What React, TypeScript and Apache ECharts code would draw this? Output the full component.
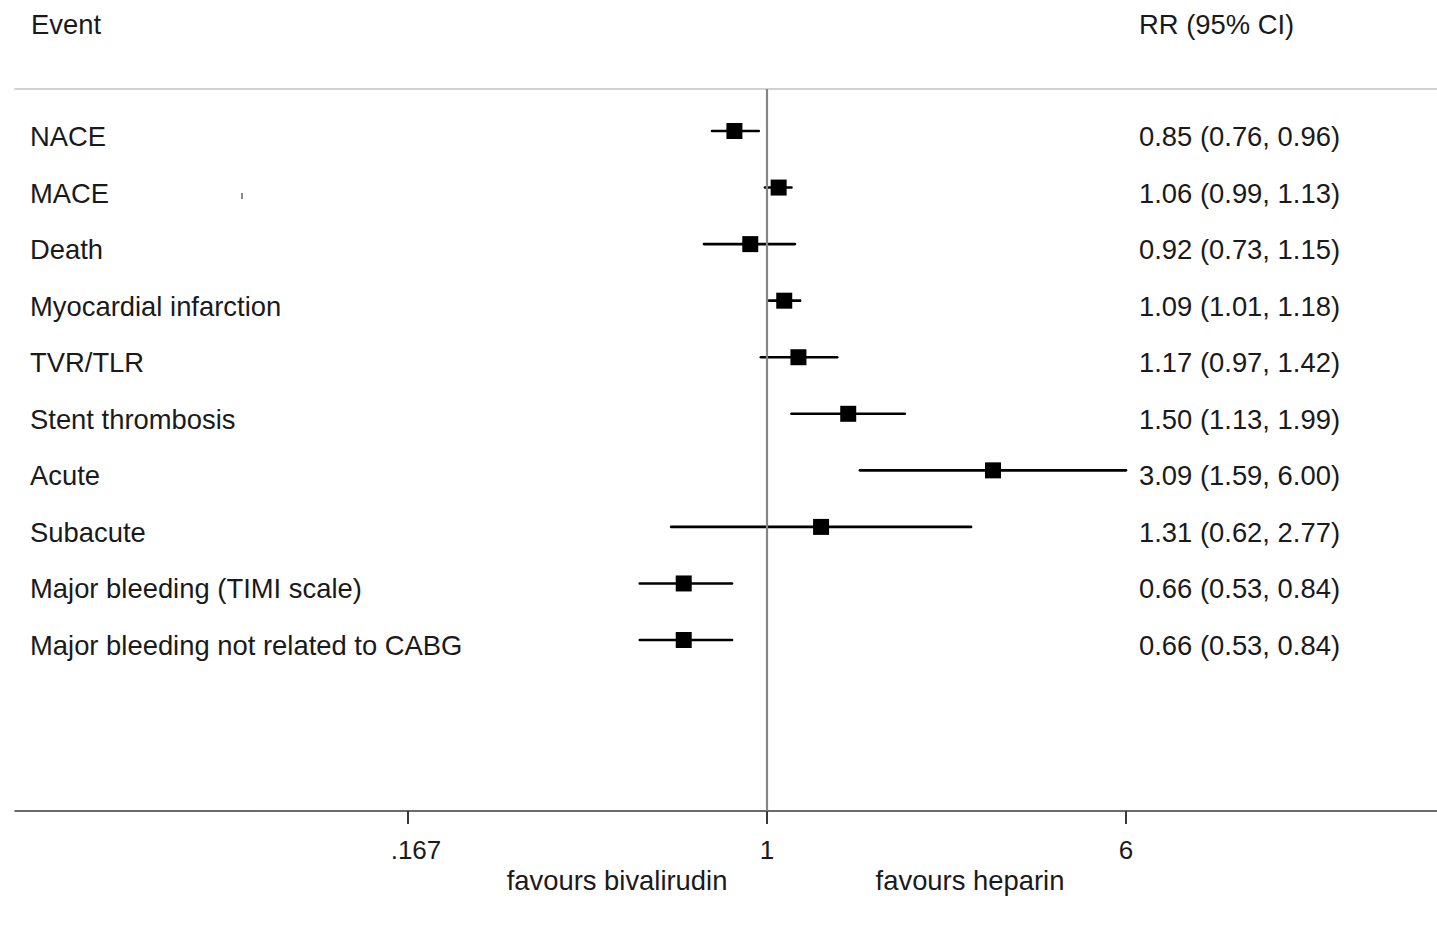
import React, { useEffect, useRef } from "react";
import * as echarts from "echarts";

const events = [
  "NACE",
  "MACE",
  "Death",
  "Myocardial infarction",
  "TVR/TLR",
  "Stent thrombosis",
  "Acute",
  "Subacute",
  "Major bleeding (TIMI scale)",
  "Major bleeding not related to CABG",
];
const rr = [0.85, 1.06, 0.92, 1.09, 1.17, 1.5, 3.09, 1.31, 0.66, 0.66];
const ciLow = [0.76, 0.99, 0.73, 1.01, 0.97, 1.13, 1.59, 0.62, 0.53, 0.53];
const ciHigh = [0.96, 1.13, 1.15, 1.18, 1.42, 1.99, 6.0, 2.77, 0.84, 0.84];

const tickValues = [1 / 6, 1, 6];
const tickLabels = [".167", "1", "6"];

const axisRR = [0.02345, 28.33]; // visible range of the RR axis
const rowRange = [-0.7426, 12.023]; // visible range of rows

const FONT = "'Liberation Sans', Arial, sans-serif";
const TEXT = "#1a1a1a";

const ln = Math.log;
const rowIdx = events.map((_, i) => i);
const ciText = events.map(
  (_, i) => `${rr[i].toFixed(2)} (${ciLow[i].toFixed(2)}, ${ciHigh[i].toFixed(2)})`
);

function buildOption() {
  const xMin = ln(axisRR[0]);
  const xMax = ln(axisRR[1]);
  const lnTicks = tickValues.map(ln);
  const tickLabelOf = (v: number) => {
    let best = 0;
    lnTicks.forEach((t, i) => {
      if (Math.abs(t - v) < Math.abs(lnTicks[best] - v)) best = i;
    });
    return best === 0 ? `{p|${tickLabels[best]}}` : `{n|${tickLabels[best]}}`;
  };
  const rowLabelStyle = {
    show: true,
    inside: true,
    align: "left" as const,
    verticalAlign: "top" as const,
    lineHeight: 11,
    fontSize: 27.4,
    fontFamily: FONT,
    color: TEXT,
    customValues: rowIdx,
    hideOverlap: false,
  };
  const titleStyle = { fontSize: 27.4, fontWeight: "normal", fontFamily: FONT, color: TEXT, lineHeight: 30 };
  return {
    animation: false,
    backgroundColor: "#ffffff",
    grid: { left: 15, right: 0, top: 89, bottom: 119, containLabel: false },
    title: [
      { text: "Event", left: 31, top: 9, padding: 0, textStyle: titleStyle },
      { text: "RR (95% CI)", left: 1139, top: 9, padding: 0, textStyle: titleStyle },
      { text: "favours bivalirudin", left: 617, top: 865, padding: 0, textAlign: "center", textStyle: titleStyle },
      { text: "favours heparin", left: 970, top: 865, padding: 0, textAlign: "center", textStyle: titleStyle },
    ],
    xAxis: [
      {
        type: "value",
        position: "bottom",
        min: xMin,
        max: xMax,
        splitLine: { show: false },
        axisLine: { show: true, onZero: false, lineStyle: { color: "#3a3a3a", width: 1.6 } },
        axisTick: {
          show: true,
          length: 13,
          customValues: lnTicks,
          lineStyle: { color: "#3a3a3a", width: 2 },
        },
        axisLabel: {
          show: true,
          customValues: lnTicks,
          margin: 26,
          formatter: tickLabelOf,
          rich: {
            p: { fontSize: 26, fontFamily: FONT, color: TEXT, lineHeight: 26, padding: [0, 0, 0, 16] },
            n: { fontSize: 26, fontFamily: FONT, color: TEXT, lineHeight: 26 },
          },
        },
      },
      {
        type: "value",
        position: "top",
        min: xMin,
        max: xMax,
        splitLine: { show: false },
        axisLine: { show: true, onZero: false, lineStyle: { color: "#d2d2d2", width: 2 } },
        axisTick: { show: false },
        axisLabel: { show: false },
      },
    ],
    yAxis: [
      {
        type: "value",
        position: "left",
        inverse: true,
        min: rowRange[0],
        max: rowRange[1],
        splitLine: { show: false },
        axisLine: { show: false, onZero: false },
        axisTick: { show: false },
        axisLabel: {
          ...rowLabelStyle,
          margin: 15,
          formatter: (v: number) => events[Math.round(v)] ?? "",
        },
      },
      {
        type: "value",
        position: "right",
        inverse: true,
        min: rowRange[0],
        max: rowRange[1],
        splitLine: { show: false },
        axisLine: { show: false, onZero: false },
        axisTick: { show: false },
        axisLabel: {
          ...rowLabelStyle,
          margin: 298,
          formatter: (v: number) => ciText[Math.round(v)] ?? "",
        },
      },
    ],
    series: [
      {
        type: "custom",
        name: "CI",
        xAxisIndex: 0,
        yAxisIndex: 0,
        z: 2,
        silent: true,
        data: rowIdx.map((i) => [ln(ciLow[i]), ln(ciHigh[i]), i]),
        encode: { x: [0, 1], y: 2 },
        renderItem: (_params: any, api: any) => {
          const y = api.value(2);
          const s = api.coord([api.value(0), y]);
          const e = api.coord([api.value(1), y]);
          return {
            type: "line",
            shape: { x1: s[0], y1: s[1], x2: e[0], y2: e[1] },
            style: { stroke: "#000000", lineWidth: 2.6, lineCap: "round" },
          };
        },
      },
      {
        type: "scatter",
        name: "RR",
        xAxisIndex: 0,
        yAxisIndex: 0,
        z: 4,
        silent: true,
        symbol: "rect",
        symbolSize: 16,
        itemStyle: { color: "#000000", opacity: 1 },
        data: rowIdx.map((i) => [ln(rr[i]), i]),
        markLine: {
          silent: true,
          symbol: ["none", "none"],
          label: { show: false },
          lineStyle: { color: "#858585", width: 2.2, type: "solid", opacity: 1 },
          data: [{ xAxis: ln(1) }],
          z: 3,
        },
      },
    ],
    graphic: [
      {
        type: "rect",
        left: 241,
        top: 193,
        shape: { width: 2, height: 6 },
        style: { fill: "#8a8a8a" },
        silent: true,
      },
    ],
  };
}

export default function App() {
  const ref = useRef<HTMLDivElement>(null);
  useEffect(() => {
    if (!ref.current) return;
    const chart = echarts.init(ref.current, null, { renderer: "svg" });
    chart.setOption(buildOption() as any);
    return () => chart.dispose();
  }, []);
  return (
    <div
      ref={ref}
      style={{ position: "absolute", left: 0, top: 0, width: 1437, height: 930, background: "#ffffff" }}
    />
  );
}
